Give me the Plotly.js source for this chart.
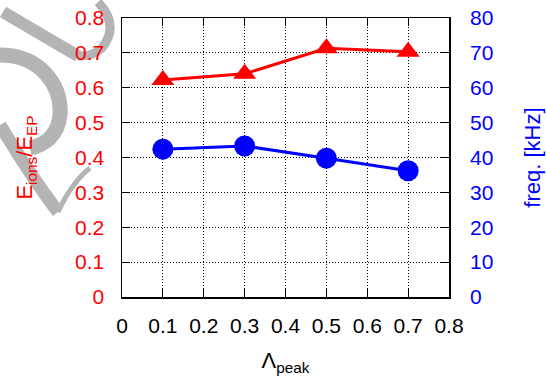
<!DOCTYPE html>
<html>
<head>
<meta charset="utf-8">
<script src="https://cdn.plot.ly/plotly-3.0.1.min.js"></script>
<style>html,body{margin:0;padding:0;background:#fff;}#chart{width:546px;height:376px;}</style>
</head>
<body>
<div id="chart"></div>
<script>
var lambdaPeak = [0.1, 0.3, 0.5, 0.7];
var energyRatio = [0.622, 0.640, 0.713, 0.703];
var freqKHz = [42.4, 43.3, 39.8, 36.2];
var xTicks = [0, 0.1, 0.2, 0.3, 0.4, 0.5, 0.6, 0.7, 0.8];
var xTickText = ['0', '0.1', '0.2', '0.3', '0.4', '0.5', '0.6', '0.7', '0.8'];
var yTicks = [0, 0.1, 0.2, 0.3, 0.4, 0.5, 0.6, 0.7, 0.8];
var yTickText = ['0', '0.1', '0.2', '0.3', '0.4', '0.5', '0.6', '0.7', '0.8'];
var y2Ticks = [0, 10, 20, 30, 40, 50, 60, 70, 80];

var W = 546, H = 376, L = 122, R = 97, T = 18, B = 79;
var pw = W - L - R, ph = H - T - B;
function px(x) { return ((x - L) / pw).toFixed(4); }
function py(y) { return ((H - B - y) / ph).toFixed(4); }
function wm(cmds) {
  return cmds.map(function (c) {
    if (typeof c === 'string') return c;
    return px(c[0]) + ',' + py(c[1]);
  }).join(' ');
}
var grey = '#b4b4b4';
var shapes = [
  {path: wm(['M', [3, 12], 'L', [78, 56]]), w: 12},
  {path: wm(['M', [98, 2], 'Q', [120, 25], [102, 48], 'Q', [92, 57], [78, 56]]), w: 9},
  {path: wm(['M', [0, 55], 'C', [40, 55], [62, 85], [60, 115], 'C', [58, 135], [45, 145], [30, 148]]), w: 15},
  {path: wm(['M', [0, 125], 'Q', [30, 175], [58, 212]]), w: 13},
  {path: wm(['M', [58, 212], 'Q', [72, 182], [90, 168]]), w: 5}
].map(function (s) {
  return {type: 'path', xref: 'paper', yref: 'paper', path: s.path, layer: 'below',
          line: {color: grey, width: s.w}};
});

var font = 'Liberation Sans, Arial, sans-serif';
var tickSize = 21, titleSize = 22;
var data = [
  {x: lambdaPeak, y: energyRatio, type: 'scatter', mode: 'lines+markers', yaxis: 'y',
   line: {color: '#ff0000', width: 3}, marker: {symbol: 'triangle-up', size: 20, color: '#ff0000'},
   showlegend: false, cliponaxis: false},
  {x: lambdaPeak, y: freqKHz, type: 'scatter', mode: 'lines+markers', yaxis: 'y2',
   line: {color: '#0000ff', width: 3}, marker: {symbol: 'circle', size: 21, color: '#0000ff'},
   showlegend: false, cliponaxis: false}
];
var layout = {
  width: W, height: H,
  margin: {l: L, r: R, t: T, b: B, pad: 0},
  paper_bgcolor: '#ffffff', plot_bgcolor: '#ffffff',
  font: {family: font, size: tickSize, color: '#000'},
  shapes: shapes,
  xaxis: {
    range: [0, 0.8], tickvals: xTicks, ticktext: xTickText,
    ticks: 'inside', ticklen: 8, tickcolor: '#000', tickwidth: 1,
    showline: true, linecolor: '#000', linewidth: 1.5, mirror: 'ticks',
    showgrid: true, gridcolor: '#000', griddash: '1px,2px', gridwidth: 1,
    zeroline: false, ticklabelstandoff: 9,
    tickfont: {family: font, size: tickSize, color: '#000'},
    title: {text: 'Λ<sub>peak</sub>', font: {family: font, size: titleSize, color: '#000'}, standoff: 17}
  },
  yaxis: {
    range: [0, 0.8], tickvals: yTicks, ticktext: yTickText,
    ticks: 'inside', ticklen: 8, tickcolor: '#000', tickwidth: 1,
    showline: true, linecolor: '#000', linewidth: 1.5, mirror: 'ticks',
    showgrid: true, gridcolor: '#000', griddash: '1px,2px', gridwidth: 1,
    zeroline: false, ticklabelstandoff: 12,
    tickfont: {family: font, size: tickSize, color: '#ff0000'},
    title: {text: 'E<sub>ions</sub>/E<sub>EP</sub>', font: {family: font, size: titleSize, color: '#ff0000'}, standoff: 36}
  },
  yaxis2: {
    overlaying: 'y', side: 'right', range: [0, 80], tickvals: y2Ticks,
    ticks: 'inside', ticklen: 8, tickcolor: '#000', tickwidth: 1,
    showline: false, showgrid: false, zeroline: false, ticklabelstandoff: 20,
    tickfont: {family: font, size: tickSize, color: '#0000ff'},
    title: {text: 'freq. [kHz]', font: {family: font, size: titleSize, color: '#0000ff'}, standoff: 32}
  }
};
Plotly.newPlot('chart', data, layout, {displayModeBar: false, staticPlot: true});
</script>
</body>
</html>
